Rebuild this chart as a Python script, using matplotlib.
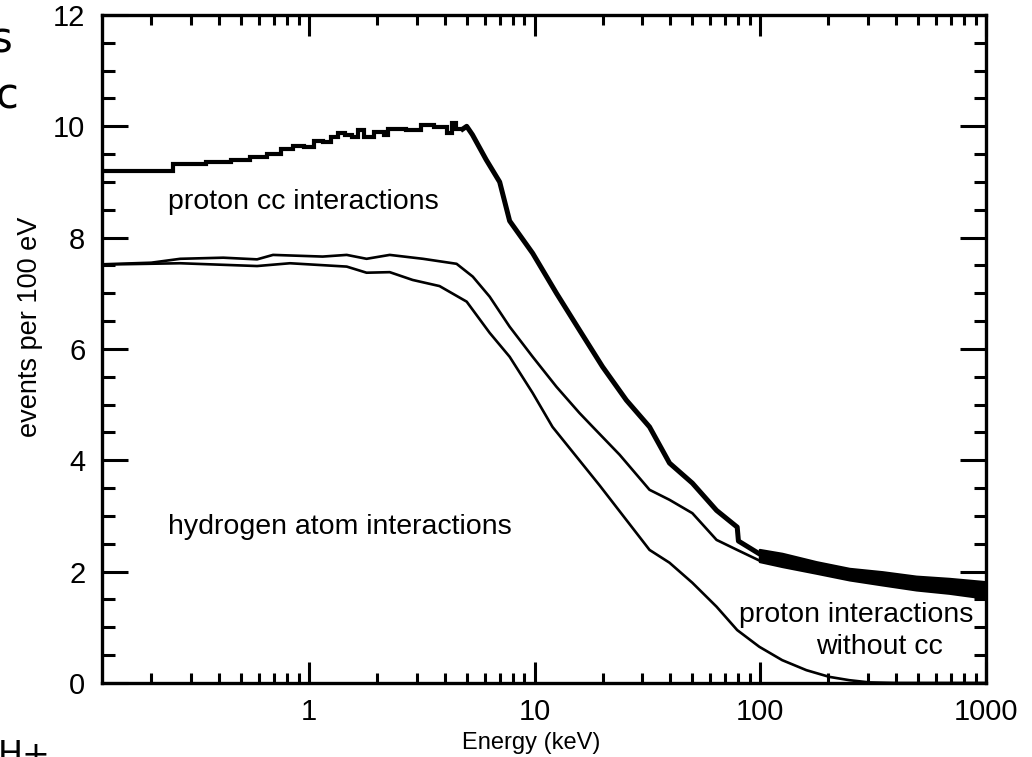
import numpy as np
import matplotlib
matplotlib.use('Agg')
import matplotlib.pyplot as plt
from matplotlib.ticker import LogLocator, MultipleLocator, FixedLocator, NullFormatter

plt.rcParams['font.family'] = ['Liberation Sans', 'DejaVu Sans']

# proton cc interactions: low-energy histogram bins (keV) and counts
cc_edges = [0.1, 0.25, 0.35, 0.45, 0.55, 0.65, 0.75, 0.85, 0.95, 1.05, 1.15, 1.25, 1.35,
            1.45, 1.55, 1.65, 1.75, 1.95, 2.15, 2.25, 2.7, 3.15, 3.6, 4.1, 4.3, 4.5, 4.8]
cc_counts = [9.2, 9.33, 9.36, 9.39, 9.45, 9.51, 9.6, 9.65, 9.63, 9.74, 9.72, 9.81, 9.88,
             9.84, 9.81, 9.93, 9.8, 9.9, 9.84, 9.96, 9.94, 10.03, 9.98, 9.88, 10.06, 9.95]
# proton cc interactions: falling part
cc_e = [4.8, 5.0, 5.3, 6.1, 7.0, 7.75, 9.8, 12.5, 15.8, 20, 25.5, 32.3, 39.6, 50, 64, 79, 80, 99, 125]
cc_y = [9.95, 10.0, 9.85, 9.4, 9.0, 8.3, 7.72, 7.0, 6.34, 5.68, 5.08, 4.6, 3.95, 3.59, 3.1, 2.8, 2.55, 2.32, 2.25]

# hydrogen atom interactions
h_e = [0.1, 0.2, 0.269, 0.417, 0.589, 0.693, 1.15, 1.47, 1.8, 2.28, 3.2, 4.51, 5.32, 6.32,
       7.75, 9.8, 12.5, 15.8, 18.1, 23.8, 32.3, 39.6, 50, 64, 79, 99]
h_y = [7.51, 7.55, 7.62, 7.64, 7.61, 7.69, 7.66, 7.69, 7.62, 7.69, 7.62, 7.53, 7.30, 6.94,
       6.4, 5.86, 5.32, 4.85, 4.6, 4.1, 3.47, 3.29, 3.05, 2.57, 2.39, 2.2]

# proton interactions without cc
p_e = [0.1, 0.269, 0.589, 0.824, 1.47, 1.8, 2.28, 2.88, 3.79, 5.0, 6.32, 7.75, 9.8, 12.0,
       19.4, 32.3, 39.6, 50, 64, 79, 99, 125, 160, 202, 248, 304, 400, 1000]
p_y = [7.51, 7.54, 7.49, 7.54, 7.48, 7.37, 7.38, 7.24, 7.13, 6.85, 6.29, 5.86, 5.21, 4.6,
       3.55, 2.39, 2.16, 1.8, 1.37, 0.95, 0.65, 0.41, 0.23, 0.11, 0.05, 0.01, 0.0, 0.0]

# high-energy noisy band where the two upper curves overlap
band_e = [99, 125, 177, 248, 347, 490, 687, 1000]
band_hi = [2.4, 2.33, 2.18, 2.06, 2.0, 1.92, 1.88, 1.82]
band_lo = [2.18, 2.09, 1.97, 1.85, 1.76, 1.67, 1.61, 1.52]

fig = plt.figure(figsize=(10.32, 7.57), dpi=100)
ax = fig.add_axes([0.0988, 0.0978, 0.8566, 0.8824])

ax.stairs(cc_counts, cc_edges, color='black', lw=3.0, baseline=None)
ax.plot(cc_e, cc_y, color='black', lw=3.6)
ax.plot(h_e, h_y, color='black', lw=1.9)
ax.plot(p_e, p_y, color='black', lw=1.9)
ax.fill_between(band_e, band_lo, band_hi, color='black', lw=1.5)

ax.set_xscale('log')
ax.set_xlim(0.121, 1000)
ax.set_ylim(0, 12)

ax.xaxis.set_major_locator(FixedLocator([1, 10, 100, 1000]))
ax.xaxis.set_minor_locator(LogLocator(base=10, subs=np.arange(2, 10)))
ax.xaxis.set_minor_formatter(NullFormatter())
ax.set_xticklabels(['1', '10', '100', '1000'])
ax.yaxis.set_major_locator(MultipleLocator(2))
ax.yaxis.set_minor_locator(MultipleLocator(0.5))

ax.tick_params(which='both', direction='in', top=True, right=True, width=2.2, labelsize=21)
ax.tick_params(axis='y', which='major', length=19, pad=12)
ax.tick_params(axis='y', which='minor', length=9)
ax.tick_params(axis='x', which='major', length=15, pad=11)
ax.tick_params(axis='x', which='minor', length=7)
for s in ax.spines.values():
    s.set_linewidth(2.4)

ax.set_xlabel('Energy (keV)', fontsize=17)
ax.set_ylabel('events per 100 eV', fontsize=19.5)
ax.xaxis.set_label_coords(0.486, -0.0735)
ax.yaxis.set_label_coords(-0.0665, 0.533)

ax.text(0.238, 8.64, 'proton cc interactions', fontsize=20.5, va='center', ha='left')
ax.text(0.238, 2.8, 'hydrogen atom interactions', fontsize=20.5, va='center', ha='left')
ax.text(876, 1.22, 'proton interactions', fontsize=20.5, va='center', ha='right')
ax.text(10 ** ((880 - 309) / 226.0), 0.65, 'without cc', fontsize=20.5, va='center', ha='center')

# fragments of neighbouring text cut by the crop
fig.text(-0.009, 0.947, 's', fontsize=30, family='DejaVu Sans', va='center', ha='left')
fig.text(-0.004, 0.872, 'c', fontsize=30, family='DejaVu Sans', va='center', ha='left')
fig.text(-0.002, 0.024, 'H+', fontsize=24, family='DejaVu Sans', va='top', ha='left')

fig.savefig('out.png', dpi=100)
